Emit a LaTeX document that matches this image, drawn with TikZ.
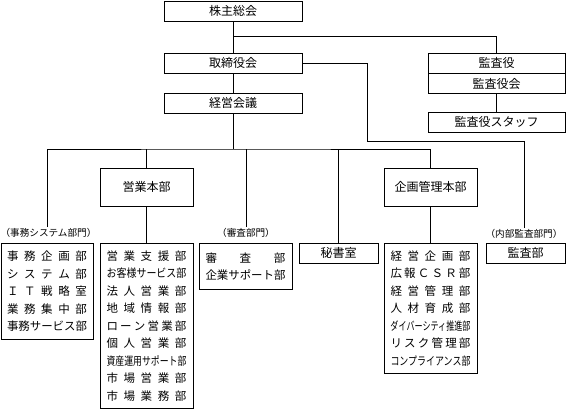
\documentclass[tikz,border=0pt]{standalone}
\usepackage{fontspec}
\usepackage{graphicx}
\setmainfont{Noto Sans CJK JP}
\newdimen\linew \linew=80pt
\newsavebox\slbox
\makeatletter
\newcommand\sline[1]{\sbox\slbox{#1}\ifdim\wd\slbox>\linew\resizebox{\linew}{\height}{#1}\else\makebox[\linew][s]{\my@spread#1\@nil}\fi}
\def\my@spread#1#2\@nil{#1\if\relax\detokenize{#2}\relax\else\hfill\my@spread#2\@nil\fi}
\makeatother
\tikzset{
  box/.style={draw, line width=0.9pt, font=\fontsize{12pt}{14pt}\selectfont, inner sep=0pt, minimum height=20pt, minimum width=138pt},
  hqbox/.style={draw, line width=0.9pt, font=\fontsize{12pt}{14pt}\selectfont, inner sep=0pt, minimum height=38pt, minimum width=93pt},
  listbox/.style={draw, line width=0.9pt, anchor=north, align=center, inner sep=0pt, minimum width=93pt, font=\fontsize{11.5pt}{17.5pt}\selectfont},
  lbl/.style={font=\fontsize{9.6pt}{11pt}\selectfont, inner sep=1pt},
  conn/.style={line width=0.9pt}
}
\begin{document}
\begin{tikzpicture}[x=1pt,y=-1pt]
\useasboundingbox (0,0) rectangle (566,409);
% top level
\node[box] (kabu) at (233,11) {株主総会};
\node[box] (tori) at (233,63) {取締役会};
\node[box] (keiei) at (233,103) {経営会議};
\node[box, minimum width=137pt] (kansa) at (496.5,63) {監査役};
\node[box, minimum width=137pt, minimum height=20.5pt] (kansakai) at (496.5,83.5) {監査役会};
\node[box, minimum width=137pt] (staff) at (496.5,122) {監査役スタッフ};
% headquarters
\node[hqbox] (eigyohq) at (146.5,187) {営業本部};
\node[hqbox] (kikakuhq) at (430.5,187) {企画管理本部};
% labels
\node[lbl] (jimulbl) at (48.5,233) {（事務システム部門）};
\node[lbl] (shinsalbl) at (246,233) {（審査部門）};
\node[lbl] (naibulbl) at (524,234) {（内部監査部門）};
% lists
\node[listbox, minimum width=92pt, minimum height=96pt] (jimu) at (47,243) {%
\sline{事務企画部}\\\sline{システム部}\\\sline{ＩＴ戦略室}\\\sline{業務集中部}\\\sline{事務サービス部}};
\node[listbox, minimum height=165pt] (eigyo) at (146.5,243) {%
\sline{営業支援部}\\\sline{お客様サービス部}\\\sline{法人営業部}\\\sline{地域情報部}\\\sline{ローン営業部}\\\sline{個人営業部}\\\sline{資産運用サポート部}\\\sline{市場営業部}\\\sline{市場業務部}};
\node[listbox, minimum height=46pt] (shinsa) at (245.5,243) {%
\sline{審査部}\\\sline{企業サポート部}};
\node[box, minimum width=79pt] (hisho) at (338.5,253) {秘書室};
\node[listbox, minimum height=130pt] (kikaku) at (430.5,243) {%
\sline{経営企画部}\\\sline{広報ＣＳＲ部}\\\sline{経営管理部}\\\sline{人材育成部}\\\sline{ダイバーシティ推進部}\\\sline{リスク管理部}\\\sline{コンプライアンス部}};
\node[box, minimum width=79pt] (kansabu) at (525.5,253) {監査部};
% connectors
\coordinate (j1) at (233,36);
\coordinate (c1) at (367,141);
\coordinate (bus) at (233,149);
\coordinate (jimutop) at (jimulbl.north -| jimu.north);
\draw[conn] (kabu.south) -- (tori.north);
\draw[conn] (j1) -| (kansa.north);
\draw[conn] (tori.south) -- (keiei.north);
\draw[conn] (kansakai.south) -- (staff.north);
\draw[conn] (tori.east) -| (c1) -| (naibulbl.north);
\draw[conn] (keiei.south) -- (bus);
\draw[conn] (jimutop) |- (bus) -| (kikakuhq.north);
\draw[conn] (eigyohq.north) -- (eigyohq.north |- bus);
\draw[conn] (shinsalbl.north) -- (shinsalbl.north |- bus);
\draw[conn] (hisho.north) -- (hisho.north |- bus);
\draw[conn] (eigyohq.south) -- (eigyo.north);
\draw[conn] (kikakuhq.south) -- (kikaku.north);
\end{tikzpicture}
\end{document}
